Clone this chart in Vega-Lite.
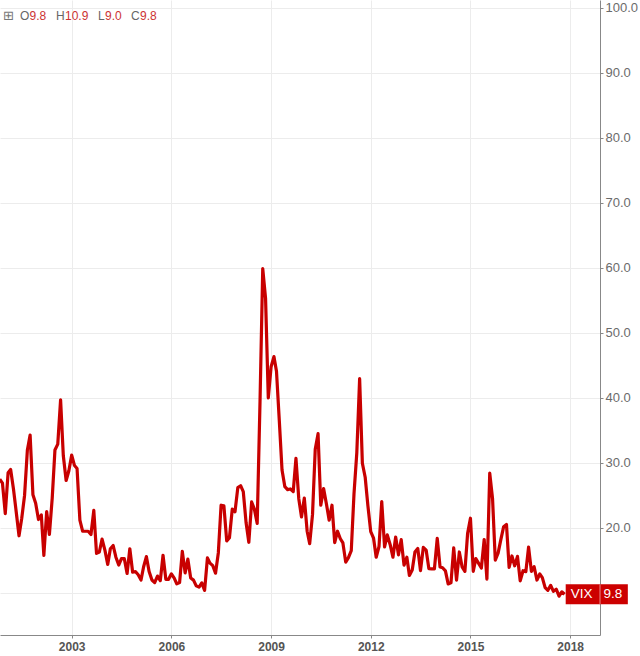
{
  "$schema": "https://vega.github.io/schema/vega-lite/v6.json",
  "width": 600,
  "height": 635,
  "autosize": {"type": "none"},
  "padding": {"left": 0, "top": 0, "right": 40, "bottom": 21},
  "background": "white",
  "config": {"view": {"stroke": null}, "font": "Liberation Sans"},
  "datasets": {
    "one": [{}],
    "vix": [
      {"date": "2000-11-01", "close": 27.5}, {"date": "2000-12-01", "close": 26.9},
      {"date": "2001-01-01", "close": 22.2}, {"date": "2001-02-01", "close": 28.5}, {"date": "2001-03-01", "close": 29.0}, {"date": "2001-04-01", "close": 26.0}, {"date": "2001-05-01", "close": 22.5}, {"date": "2001-06-01", "close": 18.8}, {"date": "2001-07-01", "close": 21.5}, {"date": "2001-08-01", "close": 25.0}, {"date": "2001-09-01", "close": 32.0}, {"date": "2001-10-01", "close": 34.3}, {"date": "2001-11-01", "close": 25.1}, {"date": "2001-12-01", "close": 23.8},
      {"date": "2002-01-01", "close": 21.3}, {"date": "2002-02-01", "close": 22.0}, {"date": "2002-03-01", "close": 15.8}, {"date": "2002-04-01", "close": 22.5}, {"date": "2002-05-01", "close": 19.0}, {"date": "2002-06-01", "close": 24.6}, {"date": "2002-07-01", "close": 32.0}, {"date": "2002-08-01", "close": 32.9}, {"date": "2002-09-01", "close": 39.7}, {"date": "2002-10-01", "close": 31.1}, {"date": "2002-11-01", "close": 27.3}, {"date": "2002-12-01", "close": 28.8},
      {"date": "2003-01-01", "close": 31.2}, {"date": "2003-02-01", "close": 29.6}, {"date": "2003-03-01", "close": 29.15}, {"date": "2003-04-01", "close": 21.2}, {"date": "2003-05-01", "close": 19.5}, {"date": "2003-06-01", "close": 19.5}, {"date": "2003-07-01", "close": 19.5}, {"date": "2003-08-01", "close": 19.0}, {"date": "2003-09-01", "close": 22.7}, {"date": "2003-10-01", "close": 16.1}, {"date": "2003-11-01", "close": 16.3}, {"date": "2003-12-01", "close": 18.3},
      {"date": "2004-01-01", "close": 16.6}, {"date": "2004-02-01", "close": 14.4}, {"date": "2004-03-01", "close": 16.8}, {"date": "2004-04-01", "close": 17.3}, {"date": "2004-05-01", "close": 15.5}, {"date": "2004-06-01", "close": 14.3}, {"date": "2004-07-01", "close": 15.3}, {"date": "2004-08-01", "close": 15.3}, {"date": "2004-09-01", "close": 13.0}, {"date": "2004-10-01", "close": 16.8}, {"date": "2004-11-01", "close": 13.2}, {"date": "2004-12-01", "close": 13.3},
      {"date": "2005-01-01", "close": 12.8}, {"date": "2005-02-01", "close": 12.0}, {"date": "2005-03-01", "close": 14.0}, {"date": "2005-04-01", "close": 15.6}, {"date": "2005-05-01", "close": 13.3}, {"date": "2005-06-01", "close": 12.0}, {"date": "2005-07-01", "close": 11.6}, {"date": "2005-08-01", "close": 12.6}, {"date": "2005-09-01", "close": 11.9}, {"date": "2005-10-01", "close": 15.8}, {"date": "2005-11-01", "close": 12.1}, {"date": "2005-12-01", "close": 12.1},
      {"date": "2006-01-01", "close": 12.95}, {"date": "2006-02-01", "close": 12.3}, {"date": "2006-03-01", "close": 11.4}, {"date": "2006-04-01", "close": 11.6}, {"date": "2006-05-01", "close": 16.4}, {"date": "2006-06-01", "close": 13.1}, {"date": "2006-07-01", "close": 15.2}, {"date": "2006-08-01", "close": 12.3}, {"date": "2006-09-01", "close": 11.98}, {"date": "2006-10-01", "close": 11.1}, {"date": "2006-11-01", "close": 10.9}, {"date": "2006-12-01", "close": 11.56},
      {"date": "2007-01-01", "close": 10.4}, {"date": "2007-02-01", "close": 15.4}, {"date": "2007-03-01", "close": 14.6}, {"date": "2007-04-01", "close": 14.2}, {"date": "2007-05-01", "close": 13.05}, {"date": "2007-06-01", "close": 16.2}, {"date": "2007-07-01", "close": 23.5}, {"date": "2007-08-01", "close": 23.4}, {"date": "2007-09-01", "close": 18.0}, {"date": "2007-10-01", "close": 18.5}, {"date": "2007-11-01", "close": 22.9}, {"date": "2007-12-01", "close": 22.5},
      {"date": "2008-01-01", "close": 26.2}, {"date": "2008-02-01", "close": 26.5}, {"date": "2008-03-01", "close": 25.6}, {"date": "2008-04-01", "close": 20.8}, {"date": "2008-05-01", "close": 17.8}, {"date": "2008-06-01", "close": 24.0}, {"date": "2008-07-01", "close": 22.9}, {"date": "2008-08-01", "close": 20.7}, {"date": "2008-09-01", "close": 39.4}, {"date": "2008-10-01", "close": 59.9}, {"date": "2008-11-01", "close": 55.3}, {"date": "2008-12-01", "close": 40.0},
      {"date": "2009-01-01", "close": 44.8}, {"date": "2009-02-01", "close": 46.35}, {"date": "2009-03-01", "close": 44.1}, {"date": "2009-04-01", "close": 36.5}, {"date": "2009-05-01", "close": 28.9}, {"date": "2009-06-01", "close": 26.35}, {"date": "2009-07-01", "close": 25.9}, {"date": "2009-08-01", "close": 26.0}, {"date": "2009-09-01", "close": 25.6}, {"date": "2009-10-01", "close": 30.7}, {"date": "2009-11-01", "close": 24.5}, {"date": "2009-12-01", "close": 21.7},
      {"date": "2010-01-01", "close": 24.6}, {"date": "2010-02-01", "close": 19.5}, {"date": "2010-03-01", "close": 17.6}, {"date": "2010-04-01", "close": 22.05}, {"date": "2010-05-01", "close": 32.1}, {"date": "2010-06-01", "close": 34.5}, {"date": "2010-07-01", "close": 23.5}, {"date": "2010-08-01", "close": 26.05}, {"date": "2010-09-01", "close": 23.7}, {"date": "2010-10-01", "close": 21.2}, {"date": "2010-11-01", "close": 23.5}, {"date": "2010-12-01", "close": 17.75},
      {"date": "2011-01-01", "close": 19.5}, {"date": "2011-02-01", "close": 18.35}, {"date": "2011-03-01", "close": 17.7}, {"date": "2011-04-01", "close": 14.75}, {"date": "2011-05-01", "close": 15.45}, {"date": "2011-06-01", "close": 16.5}, {"date": "2011-07-01", "close": 25.25}, {"date": "2011-08-01", "close": 31.6}, {"date": "2011-09-01", "close": 42.96}, {"date": "2011-10-01", "close": 29.96}, {"date": "2011-11-01", "close": 27.8}, {"date": "2011-12-01", "close": 23.4},
      {"date": "2012-01-01", "close": 19.44}, {"date": "2012-02-01", "close": 18.43}, {"date": "2012-03-01", "close": 15.5}, {"date": "2012-04-01", "close": 17.15}, {"date": "2012-05-01", "close": 24.06}, {"date": "2012-06-01", "close": 17.08}, {"date": "2012-07-01", "close": 18.93}, {"date": "2012-08-01", "close": 17.47}, {"date": "2012-09-01", "close": 15.5}, {"date": "2012-10-01", "close": 18.6}, {"date": "2012-11-01", "close": 15.87}, {"date": "2012-12-01", "close": 18.2},
      {"date": "2013-01-01", "close": 14.28}, {"date": "2013-02-01", "close": 15.51}, {"date": "2013-03-01", "close": 12.7}, {"date": "2013-04-01", "close": 13.52}, {"date": "2013-05-01", "close": 16.3}, {"date": "2013-06-01", "close": 16.86}, {"date": "2013-07-01", "close": 13.45}, {"date": "2013-08-01", "close": 17.01}, {"date": "2013-09-01", "close": 16.6}, {"date": "2013-10-01", "close": 13.75}, {"date": "2013-11-01", "close": 13.7}, {"date": "2013-12-01", "close": 13.72},
      {"date": "2014-01-01", "close": 18.41}, {"date": "2014-02-01", "close": 14.0}, {"date": "2014-03-01", "close": 13.88}, {"date": "2014-04-01", "close": 13.41}, {"date": "2014-05-01", "close": 11.4}, {"date": "2014-06-01", "close": 11.57}, {"date": "2014-07-01", "close": 16.95}, {"date": "2014-08-01", "close": 11.98}, {"date": "2014-09-01", "close": 16.31}, {"date": "2014-10-01", "close": 14.03}, {"date": "2014-11-01", "close": 13.33}, {"date": "2014-12-01", "close": 19.2},
      {"date": "2015-01-01", "close": 21.5}, {"date": "2015-02-01", "close": 13.34}, {"date": "2015-03-01", "close": 15.29}, {"date": "2015-04-01", "close": 14.55}, {"date": "2015-05-01", "close": 13.84}, {"date": "2015-06-01", "close": 18.23}, {"date": "2015-07-01", "close": 12.12}, {"date": "2015-08-01", "close": 28.43}, {"date": "2015-09-01", "close": 24.5}, {"date": "2015-10-01", "close": 15.07}, {"date": "2015-11-01", "close": 16.13}, {"date": "2015-12-01", "close": 18.21},
      {"date": "2016-01-01", "close": 20.2}, {"date": "2016-02-01", "close": 20.55}, {"date": "2016-03-01", "close": 13.95}, {"date": "2016-04-01", "close": 15.7}, {"date": "2016-05-01", "close": 14.19}, {"date": "2016-06-01", "close": 15.63}, {"date": "2016-07-01", "close": 11.87}, {"date": "2016-08-01", "close": 13.42}, {"date": "2016-09-01", "close": 13.29}, {"date": "2016-10-01", "close": 17.06}, {"date": "2016-11-01", "close": 13.33}, {"date": "2016-12-01", "close": 14.04},
      {"date": "2017-01-01", "close": 11.99}, {"date": "2017-02-01", "close": 12.92}, {"date": "2017-03-01", "close": 12.37}, {"date": "2017-04-01", "close": 10.82}, {"date": "2017-05-01", "close": 10.41}, {"date": "2017-06-01", "close": 11.18}, {"date": "2017-07-01", "close": 10.26}, {"date": "2017-08-01", "close": 10.59}, {"date": "2017-09-01", "close": 9.51}, {"date": "2017-10-01", "close": 10.18}, {"date": "2017-11-01", "close": 9.8}
    ]
  },
  "layer": [
    {
      "data": {"name": "vix"},
      "mark": {"type": "line", "color": "#c80000", "strokeWidth": 3.2, "clip": true, "strokeJoin": "round"},
      "encoding": {
        "x": {
          "field": "date", "type": "temporal",
          "scale": {"type": "utc", "domain": [{"year": 2000, "month": 11, "date": 4, "utc": true}, {"year": 2018, "month": 11, "date": 25, "utc": true}]},
          "axis": {
            "orient": "bottom", "title": null, "format": "%Y",
            "values": [{"year": 2003, "month": 1, "date": 1, "utc": true}, {"year": 2006, "month": 1, "date": 1, "utc": true}, {"year": 2009, "month": 1, "date": 1, "utc": true}, {"year": 2012, "month": 1, "date": 1, "utc": true}, {"year": 2015, "month": 1, "date": 1, "utc": true}, {"year": 2018, "month": 1, "date": 1, "utc": true}],
            "labelFontWeight": "bold", "labelFontSize": 12, "labelColor": "#555555", "labelPadding": 3, "labelFlush": false,
            "tickSize": 3, "tickColor": "#888888", "domainColor": "#888888",
            "grid": true, "gridColor": "#ececec"
          }
        },
        "y": {
          "field": "close", "type": "quantitative",
          "scale": {"domain": [3.54, 101.2], "zero": false, "nice": false},
          "axis": {
            "orient": "right", "title": null, "format": ".1f",
            "values": [10, 20, 30, 40, 50, 60, 70, 80, 90, 100],
            "labelExpr": "datum.value == 10 ? '' : datum.label",
            "labelFontSize": 13, "labelColor": "#6b6b6b", "labelPadding": 2,
            "tickSize": 3, "tickColor": "#888888", "domainColor": "#888888",
            "grid": true, "gridColor": "#ececec"
          }
        }
      }
    },
    {
      "data": {"name": "one"},
      "mark": {"type": "rect", "color": "#cc0000"},
      "encoding": {
        "x": {"datum": {"year": 2017, "month": 11, "date": 13, "utc": true}, "type": "temporal"},
        "x2": {"datum": {"year": 2019, "month": 9, "date": 27, "utc": true}},
        "y": {"datum": 8.26, "type": "quantitative"},
        "y2": {"datum": 11.34}
      }
    },
    {
      "data": {"name": "one"},
      "mark": {"type": "rule", "color": "#ec8a8a", "strokeWidth": 1},
      "encoding": {
        "x": {"datum": {"year": 2018, "month": 11, "date": 25, "utc": true}, "type": "temporal"},
        "y": {"datum": 8.26, "type": "quantitative"},
        "y2": {"datum": 11.34}
      }
    },
    {
      "data": {"name": "one"},
      "mark": {"type": "text", "text": "VIX", "color": "white", "fontSize": 13.5, "align": "center", "baseline": "middle"},
      "encoding": {
        "x": {"datum": {"year": 2018, "month": 5, "date": 8, "utc": true}, "type": "temporal"},
        "y": {"datum": 9.8, "type": "quantitative"}
      }
    },
    {
      "data": {"name": "one"},
      "mark": {"type": "text", "text": "9.8", "color": "white", "fontSize": 13.5, "align": "center", "baseline": "middle"},
      "encoding": {
        "x": {"datum": {"year": 2019, "month": 4, "date": 15, "utc": true}, "type": "temporal"},
        "y": {"datum": 9.8, "type": "quantitative"}
      }
    },
    {
      "data": {"name": "one"},
      "mark": {"type": "text", "text": "⊞", "color": "#777777", "fontSize": 13, "font": "DejaVu Sans", "align": "left", "baseline": "middle", "dx": 3},
      "encoding": {
        "x": {"datum": {"year": 2000, "month": 11, "date": 4, "utc": true}, "type": "temporal"},
        "y": {"datum": 98.77, "type": "quantitative"}
      }
    },
    {
      "data": {"name": "one"},
      "mark": {"type": "text", "text": "O", "color": "#666666", "fontSize": 12, "align": "left", "baseline": "middle", "dx": 20},
      "encoding": {"x": {"datum": {"year": 2000, "month": 11, "date": 4, "utc": true}, "type": "temporal"}, "y": {"datum": 98.77, "type": "quantitative"}}
    },
    {
      "data": {"name": "one"},
      "mark": {"type": "text", "text": "9.8", "color": "#cc3333", "fontSize": 12, "align": "left", "baseline": "middle", "dx": 29.5},
      "encoding": {"x": {"datum": {"year": 2000, "month": 11, "date": 4, "utc": true}, "type": "temporal"}, "y": {"datum": 98.77, "type": "quantitative"}}
    },
    {
      "data": {"name": "one"},
      "mark": {"type": "text", "text": "H", "color": "#666666", "fontSize": 12, "align": "left", "baseline": "middle", "dx": 56},
      "encoding": {"x": {"datum": {"year": 2000, "month": 11, "date": 4, "utc": true}, "type": "temporal"}, "y": {"datum": 98.77, "type": "quantitative"}}
    },
    {
      "data": {"name": "one"},
      "mark": {"type": "text", "text": "10.9", "color": "#cc3333", "fontSize": 12, "align": "left", "baseline": "middle", "dx": 65},
      "encoding": {"x": {"datum": {"year": 2000, "month": 11, "date": 4, "utc": true}, "type": "temporal"}, "y": {"datum": 98.77, "type": "quantitative"}}
    },
    {
      "data": {"name": "one"},
      "mark": {"type": "text", "text": "L", "color": "#666666", "fontSize": 12, "align": "left", "baseline": "middle", "dx": 98},
      "encoding": {"x": {"datum": {"year": 2000, "month": 11, "date": 4, "utc": true}, "type": "temporal"}, "y": {"datum": 98.77, "type": "quantitative"}}
    },
    {
      "data": {"name": "one"},
      "mark": {"type": "text", "text": "9.0", "color": "#cc3333", "fontSize": 12, "align": "left", "baseline": "middle", "dx": 105},
      "encoding": {"x": {"datum": {"year": 2000, "month": 11, "date": 4, "utc": true}, "type": "temporal"}, "y": {"datum": 98.77, "type": "quantitative"}}
    },
    {
      "data": {"name": "one"},
      "mark": {"type": "text", "text": "C", "color": "#666666", "fontSize": 12, "align": "left", "baseline": "middle", "dx": 131},
      "encoding": {"x": {"datum": {"year": 2000, "month": 11, "date": 4, "utc": true}, "type": "temporal"}, "y": {"datum": 98.77, "type": "quantitative"}}
    },
    {
      "data": {"name": "one"},
      "mark": {"type": "text", "text": "9.8", "color": "#cc3333", "fontSize": 12, "align": "left", "baseline": "middle", "dx": 140},
      "encoding": {"x": {"datum": {"year": 2000, "month": 11, "date": 4, "utc": true}, "type": "temporal"}, "y": {"datum": 98.77, "type": "quantitative"}}
    }
  ]
}
